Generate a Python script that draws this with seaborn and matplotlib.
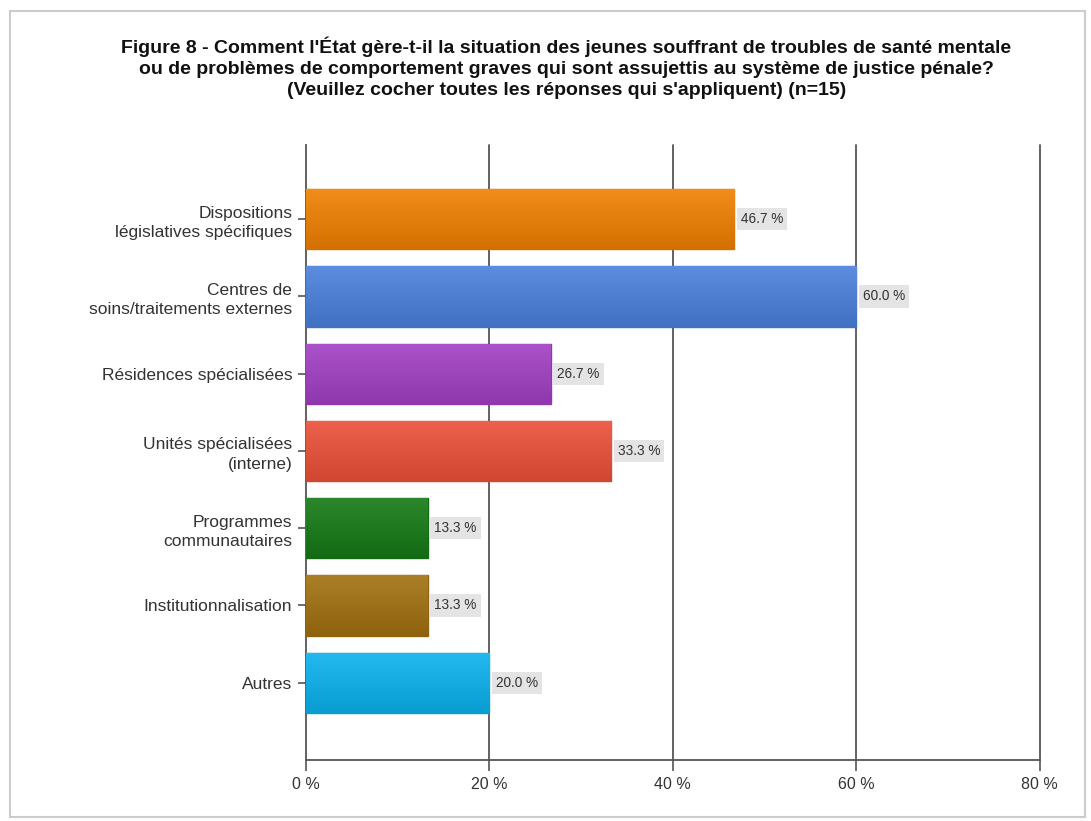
import numpy as np
import pandas as pd
import matplotlib
matplotlib.use("Agg")
import matplotlib.pyplot as plt
import seaborn as sns
from matplotlib.patches import Rectangle

categories = ["Dispositions\nlégislatives spécifiques",
              "Centres de\nsoins/traitements externes",
              "Résidences spécialisées",
              "Unités spécialisées\n(interne)",
              "Programmes\ncommunautaires",
              "Institutionnalisation",
              "Autres"]
values = [46.7, 60.0, 26.7, 33.3, 13.3, 13.3, 20.0]
colors = ["#F08000", "#4A80DC", "#A23FC4", "#EC5038", "#157A15", "#A27010", "#0AB2EE"]
xticks = [0, 20, 40, 60, 80]

df = pd.DataFrame({"cat": categories, "val": values})

sns.set_style("white")
plt.rcParams['font.family'] = ['Liberation Sans', 'DejaVu Sans']

fig = plt.figure(figsize=(10.91, 8.21), dpi=100)
ax = fig.add_axes([0.2805, 0.0743, 0.6725, 0.7491])

sns.barplot(data=df, x="val", y="cat", hue="cat", palette=colors,
            legend=False, width=0.78, saturation=1, ax=ax, zorder=3)

# soft gradient on each bar
grad = np.linspace(0, 1, 100).reshape(-1, 1)
for p, c in zip(ax.patches, colors):
    rgb = np.array(matplotlib.colors.to_rgb(c))
    x0, y0 = p.get_x(), p.get_y()
    w, h = p.get_width(), p.get_height()
    top = np.clip(rgb * 0.9 + 0.1, 0, 1)
    bot = rgb * 0.88
    img = top[None, None, :] * (1 - grad[:, :, None]) + bot[None, None, :] * grad[:, :, None]
    im = ax.imshow(img, extent=[x0, x0 + w, y0 + h, y0], aspect="auto", zorder=4)
    im.set_clip_path(p)
    p.set_edgecolor(bot)

for i, v in enumerate(values):
    ax.text(v + 0.7, i, f"{v:.1f} %", va="center", ha="left", fontsize=9.8,
            color="#333333", zorder=5,
            bbox=dict(boxstyle="square,pad=0.3", fc="#E4E4E4", ec="none"))

ax.set_xlim(0, 80)
ax.set_ylim(7.0, -0.96)
ax.set_xticks(xticks)
ax.set_xticklabels([f"{t} %" for t in xticks])
ax.set_xlabel("")
ax.set_ylabel("")
for t in xticks[1:]:
    ax.axvline(t, color="#555555", lw=1.3, zorder=2, clip_on=False)

for s in ["top", "right"]:
    ax.spines[s].set_visible(False)
ax.spines["left"].set_color("#555555")
ax.spines["bottom"].set_color("#555555")
ax.spines["left"].set_linewidth(1.3)
ax.spines["bottom"].set_linewidth(1.3)
ax.tick_params(axis="y", left=True, length=6, width=1.2, color="#555555",
               labelsize=12.5, labelcolor="#333333", pad=4)
ax.tick_params(axis="x", bottom=True, length=8, width=1.2, color="#555555",
               labelsize=11.5, labelcolor="#333333", pad=4)
ax.set_yticks(range(len(categories)))
ax.set_yticklabels(categories)
for lbl in ax.get_yticklabels():
    lbl.set_linespacing(1.35)

fig.text(0.519, 0.955,
         "Figure 8 - Comment l'État gère-t-il la situation des jeunes souffrant de troubles de santé mentale\n"
         "ou de problèmes de comportement graves qui sont assujettis au système de justice pénale?\n"
         "(Veuillez cocher toutes les réponses qui s'appliquent) (n=15)",
         ha="center", va="top", fontsize=14, fontweight="bold", color="#111111",
         linespacing=1.3)

fig.patches.append(Rectangle((0.0095, 0.005), 0.985, 0.982, transform=fig.transFigure,
                             fill=False, ec="#CCCCCC", lw=1.5))

fig.savefig("out.png", dpi=100)
